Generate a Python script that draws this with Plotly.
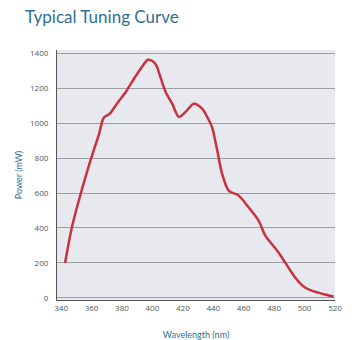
import plotly.graph_objects as go

# Tuning curve samples: wavelength (nm) vs output power (mW)
wavelength = [342.6, 347, 353, 360, 365, 368, 372, 377, 382.5, 388, 393, 397, 400, 402.5,
              405, 408.7, 413, 417.4, 421.8, 427.2, 432.7, 436, 439.2, 442, 445.8, 450.1,
              456.7, 463.2, 469.8, 474.2, 478.5, 483, 487.2, 493.8, 500.3, 505, 509, 514, 519]
power = [200, 400, 600, 805, 940, 1031, 1054, 1115, 1178, 1255, 1320, 1362, 1355, 1331,
         1270, 1178, 1111, 1035, 1064, 1111, 1083, 1035, 977, 870, 710, 614,
         585, 518, 442, 356, 308, 258, 203, 117, 59, 40, 30, 18, 8]

x_ticks = [340, 360, 380, 400, 420, 440, 460, 480, 500, 520]
y_ticks = [0, 200, 400, 600, 800, 1000, 1200, 1400]

fig = go.Figure()
fig.add_trace(go.Scatter(
    x=wavelength, y=power, mode="lines",
    line=dict(color="#c8313e", width=2.5, shape="spline", smoothing=0.8),
    hoverinfo="skip", showlegend=False,
))

fig.update_layout(
    width=354, height=340,
    margin=dict(l=57, r=19, t=50, b=40),
    paper_bgcolor="white",
    plot_bgcolor="#e7e9ef",
    font=dict(family="Open Sans", size=8, color="#555555"),
    title=dict(text="Typical Tuning Curve", x=25 / 354, xanchor="left",
               y=1 - 17 / 340, yanchor="middle",
               font=dict(family="Lato", size=17, color="#2d6f98")),
)
fig.update_xaxes(
    range=[337.3, 520], tickvals=x_ticks, ticks="", showgrid=False,
    showline=True, linecolor="#555555", linewidth=1.2, zeroline=False,
    automargin=False,
    title=dict(text="Wavelength (nm)", standoff=19,
               font=dict(family="Lato", size=9, color="#2d6f98")),
)
fig.update_yaxes(
    range=[-12, 1418], tickvals=y_ticks, ticks="", showgrid=True,
    gridcolor="#9a9ea6", gridwidth=1, showline=True, linecolor="#555555",
    linewidth=1.2, zeroline=False, ticklabelstandoff=6, automargin=False,
    title=dict(text="Power (mW)", standoff=5,
               font=dict(family="Lato", size=9, color="#2d6f98")),
)

fig.write_html("out.html")
